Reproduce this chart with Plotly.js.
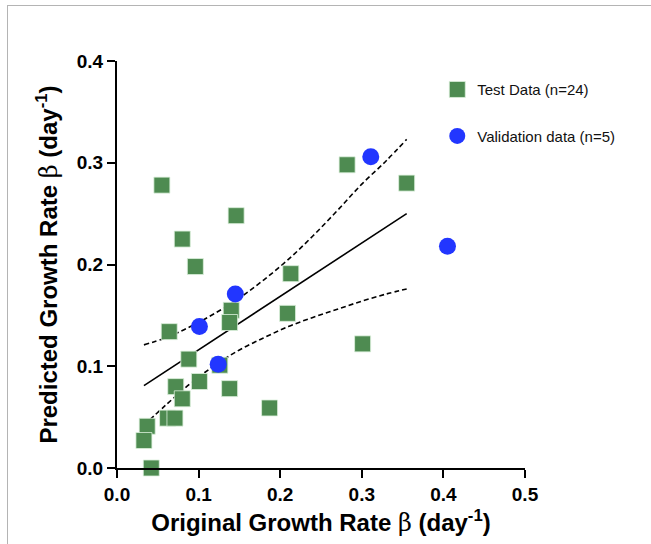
<!DOCTYPE html>
<html>
<head>
<meta charset="utf-8">
<script src="https://cdn.plot.ly/plotly-3.0.1.min.js"></script>
<style>
  html, body { margin: 0; padding: 0; background: #fff; }
  #wrap { position: relative; width: 651px; height: 544px; overflow: hidden; }
  #frame { position: absolute; left: 7px; top: 5px; right: -2px; bottom: -2px;
           border-left: 1px solid #b4b4b4; border-top: 1px solid #b4b4b4; pointer-events: none; z-index: 5; }
  #chart { position: absolute; left: 0; top: 0; width: 651px; height: 544px; }
</style>
</head>
<body>
<div id="wrap">
  <div id="chart"></div>
  <div id="frame"></div>
</div>
<script>
// Test data (n=24): original vs predicted growth rate
const testX = [0.055, 0.080, 0.146, 0.282, 0.355, 0.096, 0.213, 0.140, 0.138, 0.064, 0.209, 0.301,
               0.088, 0.126, 0.101, 0.072, 0.080, 0.138, 0.187, 0.062, 0.071, 0.037, 0.033, 0.042];
const testY = [0.278, 0.225, 0.248, 0.298, 0.280, 0.198, 0.191, 0.155, 0.143, 0.134, 0.152, 0.122,
               0.107, 0.101, 0.085, 0.080, 0.068, 0.078, 0.059, 0.049, 0.049, 0.041, 0.027, 0.000];

// Validation data (n=5)
const valX = [0.311, 0.145, 0.101, 0.124, 0.405];
const valY = [0.306, 0.171, 0.139, 0.102, 0.218];

// Regression line
const fitX = [0.033, 0.355];
const fitY = [0.081, 0.250];

// 95% confidence band
const ciX     = [0.033, 0.060, 0.090, 0.120, 0.150, 0.180, 0.210, 0.240, 0.270, 0.300, 0.330, 0.355];
const ciUpper = [0.121, 0.128, 0.139, 0.152, 0.167, 0.185, 0.205, 0.228, 0.253, 0.279, 0.302, 0.323];
const ciLower = [0.042, 0.062, 0.083, 0.101, 0.116, 0.128, 0.139, 0.148, 0.156, 0.164, 0.171, 0.176];

const xTicks = [0, 0.1, 0.2, 0.3, 0.4, 0.5];
const xTickText = ['0.0', '0.1', '0.2', '0.3', '0.4', '0.5'];
const yTicks = [0, 0.1, 0.2, 0.3, 0.4];
const yTickText = ['0.0', '0.1', '0.2', '0.3', '0.4'];

const FONT = 'Arial, "Liberation Sans", Helvetica, sans-serif';
const BETA = '<span style="font-family:\'DejaVu Serif\', \'Liberation Serif\', serif;font-weight:normal">β</span>';

const traces = [
  { x: ciX, y: ciUpper, mode: 'lines', type: 'scatter', showlegend: false, hoverinfo: 'skip',
    line: { color: '#000', width: 1.6, dash: '5px,3px', shape: 'spline' } },
  { x: ciX, y: ciLower, mode: 'lines', type: 'scatter', showlegend: false, hoverinfo: 'skip',
    line: { color: '#000', width: 1.6, dash: '5px,3px', shape: 'spline' } },
  { x: fitX, y: fitY, mode: 'lines', type: 'scatter', showlegend: false, hoverinfo: 'skip',
    line: { color: '#000', width: 1.6 } },
  { x: testX, y: testY, mode: 'markers', type: 'scatter', name: 'Test Data (n=24)', legendgroup: 'a',
    cliponaxis: false,
    marker: { symbol: 'square', size: 16, color: '#4e8b51', line: { color: 'rgba(220,240,220,0.8)', width: 1 } } },
  { x: valX, y: valY, mode: 'markers', type: 'scatter', name: 'Validation data (n=5)', legendgroup: 'b',
    cliponaxis: false,
    marker: { symbol: 'circle', size: 17, color: '#2236ff', line: { width: 0 } } }
];

const layout = {
  width: 651, height: 544,
  paper_bgcolor: 'rgba(0,0,0,0)', plot_bgcolor: 'rgba(0,0,0,0)',
  margin: { l: 117, r: 126, t: 61, b: 76 },
  font: { family: FONT, color: '#000' },
  showlegend: true,
  legend: {
    x: 0.785, y: 0.97, xanchor: 'left', yanchor: 'top',
    font: { family: FONT, size: 15, color: '#111' },
    tracegroupgap: 24, traceorder: 'grouped',
    bgcolor: 'rgba(0,0,0,0)', itemsizing: 'trace'
  },
  xaxis: {
    range: [0, 0.5], tickvals: xTicks, ticktext: xTickText,
    showgrid: false, zeroline: false, showline: true, linecolor: '#000', linewidth: 2,
    ticks: 'outside', ticklen: 8, tickwidth: 2, tickcolor: '#000',
    tickfont: { family: FONT, size: 19, weight: 'bold', color: '#000' },
    title: { text: '<b>Original Growth Rate ' + BETA + ' (day<sup>-1</sup>)</b>',
             font: { family: FONT, size: 24, weight: 'bold', color: '#000' }, standoff: 10 },
    fixedrange: true
  },
  yaxis: {
    range: [0, 0.4], tickvals: yTicks, ticktext: yTickText,
    showgrid: false, zeroline: false, showline: true, linecolor: '#000', linewidth: 2,
    ticks: 'outside', ticklen: 8, tickwidth: 2, tickcolor: '#000',
    tickfont: { family: FONT, size: 19, weight: 'bold', color: '#000' },
    title: { text: '<b>Predicted Growth Rate ' + BETA + ' (day<sup>-1</sup>)</b>',
             font: { family: FONT, size: 24, weight: 'bold', color: '#000' }, standoff: 12 },
    fixedrange: true
  }
};

Plotly.newPlot('chart', traces, layout, { displayModeBar: false, staticPlot: true });
</script>
</body>
</html>
